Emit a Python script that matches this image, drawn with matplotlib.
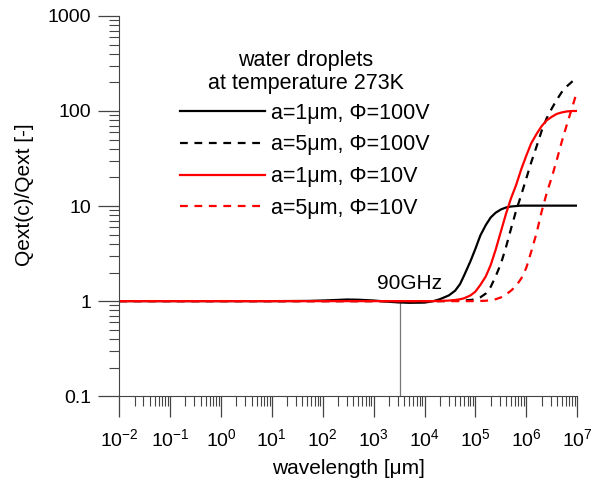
import numpy as np
import matplotlib
matplotlib.use("Agg")
import matplotlib.pyplot as plt
from matplotlib.ticker import LogLocator, NullFormatter

plt.rcParams["font.family"] = ["Liberation Sans", "DejaVu Sans"]
plt.rcParams["mathtext.fontset"] = "custom"
plt.rcParams["mathtext.rm"] = "Liberation Sans"
plt.rcParams["mathtext.default"] = "regular"
plt.rcParams["axes.unicode_minus"] = False

# wavelength grid [um], shared by all curves
wavelength_um = [1e-2, 1, 10, 50, 100, 200, 300, 500, 1e3, 2e3, 3e3, 5e3, 1e4,
                 1.5e4, 2e4, 3e4, 4e4, 5e4, 6e4, 8e4, 1e5, 1.25e5, 1.6e5, 2e5,
                 2.5e5, 3.2e5, 4e5, 5e5, 6.3e5, 8e5, 1e6, 1.25e6, 1.6e6, 2e6,
                 2.5e6, 3.2e6, 4e6, 5e6, 6.3e6, 8e6, 1e7]

# Qext(c)/Qext
q_a1_100v = [1.0, 1.0, 1.0, 1.005, 1.015, 1.03, 1.04, 1.035, 1.015, 0.985, 0.97, 0.96, 0.965,
             1.0, 1.047, 1.148, 1.288, 1.514, 1.862, 2.63, 3.55, 4.90, 6.31, 7.59,
             8.51, 9.23, 9.66, 9.89, 10.0, 10.1, 10.1, 10.1, 10.1, 10.1,
             10.1, 10.1, 10.1, 10.1, 10.1, 10.1, 10.1]
q_a5_100v = [1.0] * 13 + \
            [1.0, 1.0, 1.002, 1.007, 1.012, 1.016, 1.028, 1.047, 1.096, 1.202, 1.413,
             1.820, 2.512, 3.715, 5.754, 8.913, 13.18, 19.50, 28.84, 42.66, 61.66,
             83.18, 107.2, 131.8, 158.5, 182.0, 204.2, 223.9]
q_a1_10v = [1.0] * 13 + \
           [1.0, 1.005, 1.014, 1.028, 1.047, 1.072, 1.148, 1.259, 1.479, 1.820, 2.399,
            3.467, 5.495, 8.318, 12.02, 16.60, 24.55, 33.88, 45.71, 57.54, 69.18,
            79.43, 87.10, 93.33, 96.6, 98.9, 100.0, 100.0]
q_a5_10v = [1.0] * 13 + \
           [1.0] * 8 + \
           [1.005, 1.009, 1.023, 1.047, 1.096, 1.175, 1.288, 1.445, 1.738, 2.239,
            3.311, 5.248, 8.710, 13.49, 20.42, 30.90, 47.86, 72.44, 109.6, 162.2]

labels = ["a=1\u03bcm, \u03a6=100V", "a=5\u03bcm, \u03a6=100V",
          "a=1\u03bcm, \u03a6=10V", "a=5\u03bcm, \u03a6=10V"]
legend_title = "water droplets\nat temperature 273K"

# 90 GHz marker
freq_ghz = 90
marker_wl = 2.998e8 / (freq_ghz * 1e9) * 1e6

fig = plt.figure(figsize=(6.05, 4.82), dpi=100)
ax = fig.add_axes([0.197, 0.178, 0.757, 0.789])

wl = np.array(wavelength_um)
ax.plot(wl, q_a1_100v, color="black", lw=1.6, label=labels[0])
ax.plot(wl, q_a5_100v, color="black", lw=1.6, dashes=(3.5, 3), label=labels[1])
ax.plot(wl, q_a1_10v, color="#ff0000", lw=1.6, label=labels[2])
ax.plot(wl, q_a5_10v, color="#ff0000", lw=1.6, dashes=(3.5, 3), label=labels[3])

ax.plot([marker_wl, marker_wl], [0.1, 1.0], color="#777777", lw=0.9, zorder=1)
ax.text(1175, 1.22, f"{freq_ghz}GHz", fontsize=15, ha="left", va="bottom")

ax.set_xscale("log")
ax.set_yscale("log")
ax.set_xlim(1e-2, 1e7)
ax.set_ylim(0.1, 1000)

ax.xaxis.set_major_locator(LogLocator(base=10, numticks=20))
ax.xaxis.set_minor_locator(LogLocator(base=10, subs=np.arange(2, 10), numticks=20))
ax.xaxis.set_minor_formatter(NullFormatter())
ax.yaxis.set_major_locator(LogLocator(base=10, numticks=20))
ax.yaxis.set_minor_locator(LogLocator(base=10, subs=np.arange(2, 10), numticks=20))
ax.yaxis.set_minor_formatter(NullFormatter())
ax.set_yticks([0.1, 1, 10, 100, 1000])
ax.set_yticklabels(["0.1", "1", "10", "100", "1000"])

for side in ["top", "right"]:
    ax.spines[side].set_visible(False)
for side in ["left", "bottom"]:
    ax.spines[side].set_color("#444444")
ax.tick_params(which="major", direction="out", length=15, width=0.9, color="#444444",
               labelsize=14)
ax.tick_params(which="minor", direction="out", length=7, width=0.8, color="#444444")
ax.tick_params(axis="y", which="major", pad=5)
ax.tick_params(axis="x", which="major", pad=8)

ax.set_xlabel("wavelength [\u03bcm]", fontsize=15)
ax.set_ylabel("Qext(c)/Qext [-]", fontsize=15)
ax.xaxis.set_label_coords(0.5, -0.165)
ax.yaxis.set_label_coords(-0.186, 0.53)

# legend title drawn on its own, centred over the entries
ax.text(0.408, 0.853, legend_title, transform=ax.transAxes, fontsize=15.5,
        ha="center", va="center", multialignment="center", linespacing=1.15)
leg = ax.legend(loc="upper left", bbox_to_anchor=(0.133, 0.772), frameon=False,
                fontsize=15.5, handlelength=3.95, handletextpad=0.25,
                labelspacing=0.5, borderpad=0, borderaxespad=0)

fig.savefig("out.png", dpi=100)
